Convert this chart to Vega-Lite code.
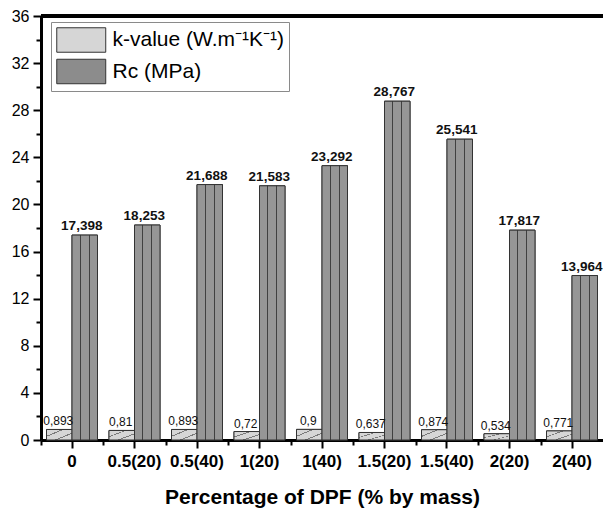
{
  "$schema": "https://vega.github.io/schema/vega-lite/v6.json",
  "width": 562,
  "height": 424,
  "autosize": {"type": "none"},
  "padding": {"left": 41, "top": 16, "right": 0, "bottom": 70},
  "background": "white",
  "config": {
    "font": "Liberation Sans",
    "view": {"stroke": null},
    "locale": {"number": {"decimal": ",", "thousands": ".", "grouping": [3], "currency": ["", ""]}},
    "axis": {"labelColor": "black", "titleColor": "black", "tickColor": "black", "domainColor": "black", "grid": false}
  },
  "data": {
    "values": [
      {"dpf": "0", "series": "k-value (W.m⁻¹K⁻¹)", "value": 0.893},
      {"dpf": "0.5(20)", "series": "k-value (W.m⁻¹K⁻¹)", "value": 0.81},
      {"dpf": "0.5(40)", "series": "k-value (W.m⁻¹K⁻¹)", "value": 0.893},
      {"dpf": "1(20)", "series": "k-value (W.m⁻¹K⁻¹)", "value": 0.72},
      {"dpf": "1(40)", "series": "k-value (W.m⁻¹K⁻¹)", "value": 0.9},
      {"dpf": "1.5(20)", "series": "k-value (W.m⁻¹K⁻¹)", "value": 0.637},
      {"dpf": "1.5(40)", "series": "k-value (W.m⁻¹K⁻¹)", "value": 0.874},
      {"dpf": "2(20)", "series": "k-value (W.m⁻¹K⁻¹)", "value": 0.534},
      {"dpf": "2(40)", "series": "k-value (W.m⁻¹K⁻¹)", "value": 0.771},
      {"dpf": "0", "series": "Rc (MPa)", "value": 17.398},
      {"dpf": "0.5(20)", "series": "Rc (MPa)", "value": 18.253},
      {"dpf": "0.5(40)", "series": "Rc (MPa)", "value": 21.688},
      {"dpf": "1(20)", "series": "Rc (MPa)", "value": 21.583},
      {"dpf": "1(40)", "series": "Rc (MPa)", "value": 23.292},
      {"dpf": "1.5(20)", "series": "Rc (MPa)", "value": 28.767},
      {"dpf": "1.5(40)", "series": "Rc (MPa)", "value": 25.541},
      {"dpf": "2(20)", "series": "Rc (MPa)", "value": 17.817},
      {"dpf": "2(40)", "series": "Rc (MPa)", "value": 13.964}
    ]
  },
  "layer": [
    {
      "mark": {"type": "point", "opacity": 0},
      "encoding": {
        "x": {
          "field": "dpf", "type": "nominal", "sort": null,
          "scale": {"paddingInner": 0.184, "paddingOuter": 0.088},
          "axis": {"orient": "bottom", "labels": false, "domain": false, "tickSize": 5, "tickWidth": 2, "tickOffset": -31.25, "title": null}
        },
        "y": {
          "field": "value", "type": "quantitative",
          "scale": {"domain": [0, 36], "nice": false},
          "axis": {
            "orient": "left", "values": [0, 2, 4, 6, 8, 10, 12, 14, 16, 18, 20, 22, 24, 26, 28, 30, 32, 34, 36],
            "labelExpr": "datum.value % 4 === 0 ? datum.label : ''",
            "tickSize": {"condition": {"test": "datum.value % 4 === 0", "value": 8}, "value": 5},
            "tickWidth": 2, "domainWidth": 3, "labelFontSize": 16, "labelPadding": 4, "title": null
          }
        }
      }
    },
    {
      "mark": {"type": "bar", "stroke": "#333333", "strokeWidth": 1},
      "encoding": {
        "x": {
          "field": "dpf", "type": "nominal", "sort": null,
          "axis": {
            "orient": "bottom", "labelAngle": 0, "labelFontSize": 17, "labelFontWeight": "bold",
            "tickSize": 8, "tickWidth": 2, "domainWidth": 3, "labelPadding": 5,
            "title": "Percentage of DPF (% by mass)", "titleFontSize": 21, "titleFontWeight": "bold", "titlePadding": 17
          }
        },
        "xOffset": {"field": "series", "type": "nominal", "sort": ["k-value (W.m⁻¹K⁻¹)", "Rc (MPa)"], "scale": {"paddingInner": 0, "paddingOuter": 0}},
        "y": {"field": "value", "type": "quantitative", "axis": null},
        "color": {
          "field": "series", "type": "nominal", "sort": ["k-value (W.m⁻¹K⁻¹)", "Rc (MPa)"],
          "scale": {"domain": ["k-value (W.m⁻¹K⁻¹)", "Rc (MPa)"], "range": ["#d6d6d6", "#8c8c8c"]},
          "legend": {
            "orient": "none", "legendX": 10, "legendY": 6, "title": null,
            "strokeColor": "#8a8a8a", "fillColor": "white", "padding": 5,
            "symbolType": "M-1,-1H3V1H-1Z", "symbolSize": 600,
            "symbolStrokeColor": "#333333", "symbolStrokeWidth": 1, "symbolOpacity": 1,
            "labelFontSize": 21, "labelColor": "black", "labelOffset": 30.5, "rowPadding": 1.5,
            "labelLimit": 300
          }
        }
      }
    },
    {
      "transform": [{"filter": "datum.series === 'k-value (W.m⁻¹K⁻¹)'"}],
      "mark": {"type": "bar", "stroke": "#333333", "strokeWidth": 1, "fill": {"gradient": "linear", "x1": 0, "y1": 0, "x2": 1, "y2": 1, "stops": [
                {"offset": 0, "color": "#d6d6d6"}, {"offset": 0.30, "color": "#d6d6d6"},
                {"offset": 0.30, "color": "#7a7a7a"}, {"offset": 0.35, "color": "#7a7a7a"},
                {"offset": 0.35, "color": "#d6d6d6"}, {"offset": 0.65, "color": "#d6d6d6"},
                {"offset": 0.65, "color": "#7a7a7a"}, {"offset": 0.70, "color": "#7a7a7a"},
                {"offset": 0.70, "color": "#d6d6d6"}, {"offset": 1, "color": "#d6d6d6"}
              ]}},
      "encoding": {
        "x": {"field": "dpf", "type": "nominal", "sort": null, "axis": null},
        "xOffset": {"field": "series", "type": "nominal", "sort": ["k-value (W.m⁻¹K⁻¹)", "Rc (MPa)"]},
        "y": {"field": "value", "type": "quantitative", "axis": null}
      }
    },
    {
      "transform": [{"filter": "datum.series === 'Rc (MPa)'"}],
      "mark": {"type": "bar", "stroke": "#333333", "strokeWidth": 1, "fill": {"gradient": "linear", "x1": 0, "y1": 0, "x2": 1, "y2": 0, "stops": [
                {"offset": 0, "color": "#969696"}, {"offset": 0.31, "color": "#969696"},
                {"offset": 0.31, "color": "#404040"}, {"offset": 0.35, "color": "#404040"},
                {"offset": 0.35, "color": "#969696"}, {"offset": 0.65, "color": "#969696"},
                {"offset": 0.65, "color": "#404040"}, {"offset": 0.69, "color": "#404040"},
                {"offset": 0.69, "color": "#969696"}, {"offset": 1, "color": "#969696"}
              ]}},
      "encoding": {
        "x": {"field": "dpf", "type": "nominal", "sort": null, "axis": null},
        "xOffset": {"field": "series", "type": "nominal", "sort": ["k-value (W.m⁻¹K⁻¹)", "Rc (MPa)"]},
        "y": {"field": "value", "type": "quantitative", "axis": null}
      }
    },
    {
      "transform": [{"filter": "datum.series === 'k-value (W.m⁻¹K⁻¹)'"}],
      "mark": {"type": "text", "baseline": "alphabetic", "dy": -4, "dx": -1, "fontSize": 12, "color": "#111111"},
      "encoding": {
        "x": {"field": "dpf", "type": "nominal", "sort": null, "axis": null},
        "xOffset": {"field": "series", "type": "nominal", "sort": ["k-value (W.m⁻¹K⁻¹)", "Rc (MPa)"]},
        "y": {"field": "value", "type": "quantitative", "axis": null},
        "text": {"field": "value", "type": "quantitative", "format": "~g"}
      }
    },
    {
      "transform": [{"filter": "datum.series === 'Rc (MPa)'"}],
      "mark": {"type": "text", "baseline": "alphabetic", "dy": -5, "dx": -3, "fontSize": 13.5, "fontWeight": "bold", "color": "#111111"},
      "encoding": {
        "x": {"field": "dpf", "type": "nominal", "sort": null, "axis": null},
        "xOffset": {"field": "series", "type": "nominal", "sort": ["k-value (W.m⁻¹K⁻¹)", "Rc (MPa)"]},
        "y": {"field": "value", "type": "quantitative", "axis": null},
        "text": {"field": "value", "type": "quantitative", "format": "~g"}
      }
    },
    {
      "mark": {"type": "rule", "color": "black", "strokeWidth": 3},
      "encoding": {"y": {"datum": 36, "type": "quantitative", "axis": null}}
    }
  ],
  "resolve": {"axis": {"x": "independent", "y": "independent"}}
}
